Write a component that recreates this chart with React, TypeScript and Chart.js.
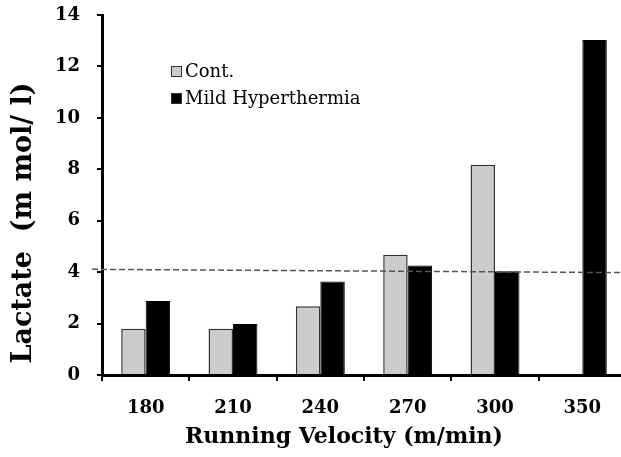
import React, { useEffect, useRef } from 'react';
import { Chart, registerables } from 'chart.js';

Chart.register(...registerables);

const categories = ['180', '210', '240', '270', '300', '350'];
const contValues: (number | null)[] = [1.8, 1.8, 2.67, 4.68, 8.18, null];
const hyperValues: (number | null)[] = [2.88, 1.98, 3.64, 4.26, 4.03, 13.03];
const seriesLabels = ['Cont.', 'Mild Hyperthermia'];
const yTicks = [0, 2, 4, 6, 8, 10, 12, 14];
const thresholdStart = 4.11;
const thresholdEnd = 3.98;
const xTitle = 'Running Velocity (m/min)';
const yTitle = 'Lactate  (m mol/ l)';

const FONT = "'DejaVu Serif', serif";

const overlayPlugin = {
  id: 'overlay',
  afterDatasetsDraw(chart: any) {
    const { ctx, chartArea, scales } = chart;
    const y = scales.y;
    ctx.save();
    ctx.strokeStyle = '#555';
    ctx.lineWidth = 1.5;
    ctx.setLineDash([6, 3]);
    ctx.beginPath();
    ctx.moveTo(chartArea.left - 10, y.getPixelForValue(thresholdStart));
    ctx.lineTo(chartArea.right, y.getPixelForValue(thresholdEnd));
    ctx.stroke();
    ctx.restore();
  },
  afterDraw(chart: any) {
    const { ctx } = chart;
    ctx.save();
    // legend
    ctx.font = `18px ${FONT}`;
    ctx.textBaseline = 'alphabetic';
    ctx.textAlign = 'left';
    chart.data.datasets.forEach((ds: any, i: number) => {
      const bx = 171;
      const by = 66 + i * 27;
      ctx.fillStyle = ds.backgroundColor;
      ctx.fillRect(bx, by, 11, 11);
      ctx.strokeStyle = '#333';
      ctx.lineWidth = 1;
      ctx.strokeRect(bx + 0.5, by + 0.5, 10, 10);
      ctx.fillStyle = '#000';
      ctx.fillText(ds.label, 185, by + 11);
    });
    // axis titles
    ctx.font = `bold 22px ${FONT}`;
    ctx.textAlign = 'center';
    ctx.fillText(xTitle, 344, 443);
    ctx.translate(24, 223);
    ctx.rotate(-Math.PI / 2);
    ctx.font = `bold 27px ${FONT}`;
    ctx.textBaseline = 'middle';
    ctx.fillText(yTitle, 0, 0);
    ctx.restore();
  },
};

export default function App() {
  const ref = useRef<HTMLCanvasElement | null>(null);

  useEffect(() => {
    if (!ref.current) return;
    const chart = new Chart(ref.current, {
      type: 'bar',
      data: {
        labels: categories,
        datasets: [
          {
            label: seriesLabels[0],
            data: contValues,
            backgroundColor: 'rgb(204,204,204)',
            borderColor: '#333',
            borderWidth: 1.5,
          },
          {
            label: seriesLabels[1],
            data: hyperValues,
            backgroundColor: '#000',
            borderColor: '#000',
            borderWidth: 1,
          },
        ],
      },
      options: {
        responsive: false,
        animation: false,
        devicePixelRatio: 1,
        layout: { padding: { top: 15, right: 0, left: 0, bottom: 0 } },
        plugins: {
          legend: { display: false },
          tooltip: { enabled: false },
        },
        datasets: {
          bar: { categoryPercentage: 0.56, barPercentage: 1 },
        },
        scales: {
          x: {
            grid: {
              display: true,
              drawOnChartArea: false,
              drawTicks: true,
              tickLength: 6,
              lineWidth: 2,
              color: '#000',
              offset: true,
            },
            border: { display: true, width: 3, color: '#000' },
            ticks: {
              color: '#000',
              font: { family: FONT, size: 18, weight: 'bold' },
              padding: 17,
              maxRotation: 0,
            },
            afterFit: (s: any) => {
              s.height = 82;
              s.paddingLeft = 0;
              s.paddingRight = 0;
            },
          },
          y: {
            min: 0,
            max: 14,
            afterBuildTicks: (s: any) => {
              s.ticks = yTicks.map((v) => ({ value: v }));
            },
            grid: {
              display: true,
              drawOnChartArea: false,
              drawTicks: true,
              tickLength: 5,
              lineWidth: 2,
              color: '#000',
            },
            border: { display: true, width: 3, color: '#000' },
            ticks: {
              color: '#000',
              font: { family: FONT, size: 18, weight: 'bold' },
              padding: 17,
            },
            afterFit: (s: any) => {
              s.width = 102;
              s.paddingTop = 0;
              s.paddingBottom = 0;
            },
          },
        },
      },
      plugins: [overlayPlugin],
    });
    return () => chart.destroy();
  }, []);

  return (
    <div
      style={{
        position: 'fixed',
        left: 0,
        top: 0,
        width: 621,
        height: 457,
        overflow: 'hidden',
        background: '#fff',
      }}
    >
      <canvas ref={ref} width={626} height={457} style={{ display: 'block' }} />
    </div>
  );
}
